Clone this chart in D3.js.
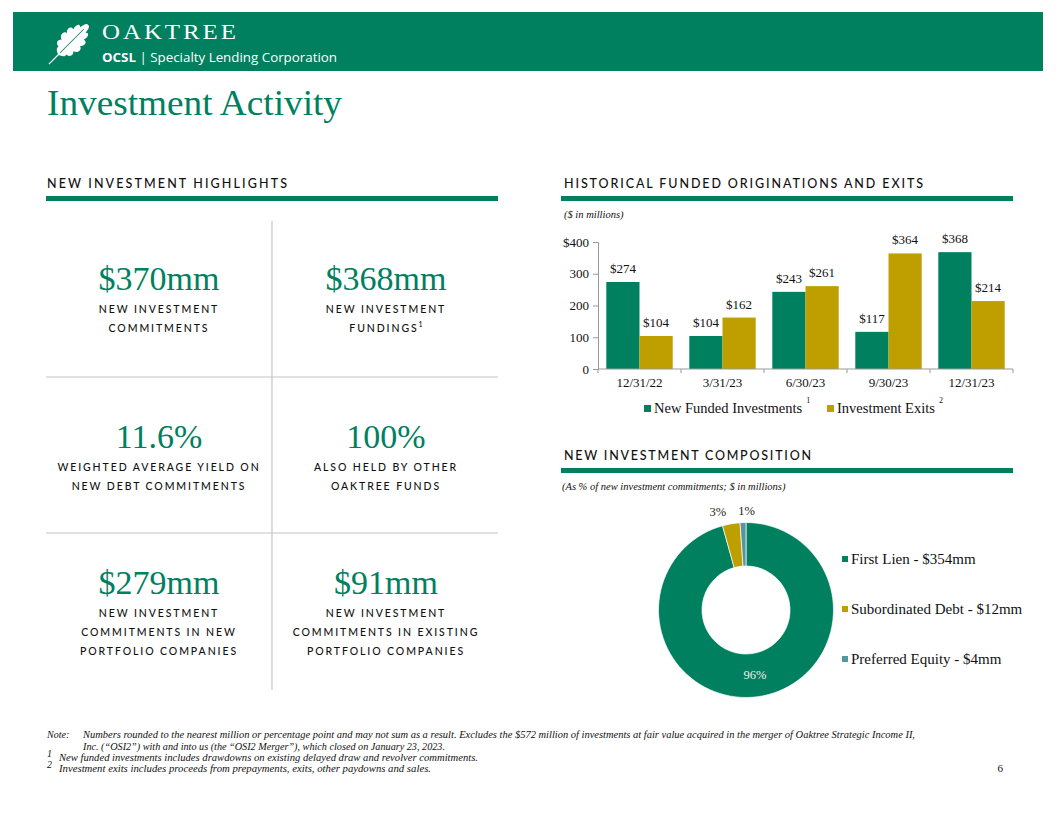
<!DOCTYPE html>
<html><head><meta charset="utf-8">
<script src="https://cdn.jsdelivr.net/npm/d3@7"></script>
<style>body{margin:0;background:#fff}svg{display:block}</style>
</head><body><svg id="c" width="1056" height="816"></svg>
<script>
// ---------- DATA ----------
const quarters = ["12/31/22", "3/31/23", "6/30/23", "9/30/23", "12/31/23"];
const newFunded = [274, 104, 243, 117, 368];
const exits = [104, 162, 261, 364, 214];
const barSeries = ["New Funded Investments", "Investment Exits"];
const barSeriesNotes = ["1", "2"];
const yTicks = [0, 100, 200, 300, 400];

const compCategories = ["First Lien", "Subordinated Debt", "Preferred Equity"];
const compValues = [354, 12, 4];
const compPercents = ["96%", "3%", "1%"];

const highlightValues = ["$370mm", "$368mm", "11.6%", "100%", "$279mm", "$91mm"];
const highlightLabels = [
  ["NEW INVESTMENT", "COMMITMENTS"],
  ["NEW INVESTMENT", "FUNDINGS"],
  ["WEIGHTED AVERAGE YIELD ON", "NEW DEBT COMMITMENTS"],
  ["ALSO HELD BY OTHER", "OAKTREE FUNDS"],
  ["NEW INVESTMENT", "COMMITMENTS IN NEW", "PORTFOLIO COMPANIES"],
  ["NEW INVESTMENT", "COMMITMENTS IN EXISTING", "PORTFOLIO COMPANIES"]
];
const highlightNotes = ["", "1", "", "", "", ""];

const noteLines = [
  "Numbers rounded to the nearest million or percentage point and may not sum as a result. Excludes the $572 million of investments at fair value acquired in the merger of Oaktree Strategic Income II,",
  "Inc. (\u201COSI2\u201D) with and into us (the \u201COSI2 Merger\u201D), which closed on January 23, 2023."
];
const footnotes = [
  "New funded investments includes drawdowns on existing delayed draw and revolver commitments.",
  "Investment exits includes proceeds from prepayments, exits, other paydowns and sales."
];

// ---------- STYLE ----------
const GREEN = "#00805f", GOLD = "#bf9f00", TEAL = "#5595a0";
const SERIF = "'Liberation Serif','Times New Roman',serif";
const SANS = "Lato,'Open Sans',sans-serif";
const svg = d3.select("#c");
svg.append("rect").attr("width", 1056).attr("height", 816).attr("fill", "#fff");

// ---------- HEADER ----------
svg.append("rect").attr("x", 13).attr("y", 12).attr("width", 1030).attr("height", 59).attr("fill", GREEN);
const leaf = svg.append("g").attr("transform", "translate(54,59) rotate(-45) scale(1.2,0.92)");
leaf.append("line").attr("x1", -6).attr("y1", 0).attr("x2", 8).attr("y2", 0).attr("stroke", "#fff").attr("stroke-width", 1.4);
leaf.append("path").attr("fill", "#fff").attr("d",
  "M5,0 C6,-3 7,-7 10,-6 C10,-10 13,-13 16,-9 C17,-14 22,-15 23,-10 C25,-14 30,-13 29,-8 C33,-10 37,-7 34,-4 C38,-4 41,-2 40,0 C41,2 38,4 34,4 C37,7 33,10 29,8 C30,13 25,14 23,10 C22,15 17,14 16,9 C13,13 10,10 10,6 C7,7 6,3 5,0 Z");
leaf.append("line").attr("x1", 7).attr("y1", 0).attr("x2", 35).attr("y2", 0).attr("stroke", GREEN).attr("stroke-width", 0.9);

svg.append("text").attr("x", 102).attr("y", 39).attr("fill", "#fff").attr("font-family", SERIF)
  .attr("font-size", 21).attr("letter-spacing", 2.5).attr("textLength", 137).attr("lengthAdjust", "spacingAndGlyphs").text("OAKTREE");
const sub = svg.append("text").attr("x", 102).attr("y", 62).attr("fill", "#fff").attr("font-family", "'Open Sans',sans-serif")
  .attr("font-size", 13).attr("textLength", 235).attr("lengthAdjust", "spacingAndGlyphs");
sub.append("tspan").attr("font-weight", 700).text("OCSL");
sub.append("tspan").text(" | Specialty Lending Corporation");

svg.append("text").attr("x", 47).attr("y", 115).attr("fill", GREEN).attr("font-family", SERIF)
  .attr("font-size", 36).attr("textLength", 295).attr("lengthAdjust", "spacingAndGlyphs").text("Investment Activity");

// ---------- SECTION HEADINGS ----------
function heading(x, y, w, txt, rx1, rx2) {
  svg.append("text").attr("x", x).attr("y", y).attr("fill", "#111").attr("font-family", SANS)
    .attr("font-size", 12.5).attr("font-weight", 500).attr("textLength", w).attr("lengthAdjust", "spacing").text(txt);
  svg.append("rect").attr("x", rx1).attr("y", y + 8).attr("width", rx2 - rx1).attr("height", 5).attr("fill", GREEN);
}
heading(47, 188, 240, "NEW INVESTMENT HIGHLIGHTS", 46, 498);
heading(564, 188, 359, "HISTORICAL FUNDED ORIGINATIONS AND EXITS", 561, 1013);
heading(564, 460, 247, "NEW INVESTMENT COMPOSITION", 561, 1013);

// ---------- HIGHLIGHTS ----------
svg.append("line").attr("x1", 272).attr("x2", 272).attr("y1", 221).attr("y2", 690).attr("stroke", "#c4c4c4").attr("stroke-width", 1.2);
[377, 533].forEach(y => svg.append("line").attr("x1", 46).attr("x2", 498).attr("y1", y).attr("y2", y).attr("stroke", "#c4c4c4").attr("stroke-width", 1.2));
const colX = [159, 386], rowY = [290, 448, 594];
highlightValues.forEach((v, i) => {
  const cx = colX[i % 2], by = rowY[Math.floor(i / 2)];
  svg.append("text").attr("x", cx).attr("y", by).attr("text-anchor", "middle").attr("fill", GREEN)
    .attr("font-family", SERIF).attr("font-size", 34).text(v);
  highlightLabels[i].forEach((l, j) => {
    const t = svg.append("text").attr("x", cx).attr("y", by + 23 + j * 19).attr("text-anchor", "middle")
      .attr("fill", "#111").attr("font-family", SANS).attr("font-size", 10.5).attr("font-weight", 500)
      .attr("letter-spacing", 1.9).text(l);
    if (j === highlightLabels[i].length - 1 && highlightNotes[i]) {
      t.append("tspan").attr("font-size", 7).attr("dy", -5).attr("letter-spacing", 0).text(highlightNotes[i]);
    }
  });
});

// ---------- BAR CHART ----------
svg.append("text").attr("x", 564).attr("y", 218).attr("font-family", SERIF).attr("font-style", "italic")
  .attr("font-size", 10.5).attr("fill", "#111").text("($ in millions)");
const x0 = d3.scaleBand().domain(quarters).range([598, 1013]).paddingInner(0.2).paddingOuter(0.1);
const x1 = d3.scaleBand().domain(barSeries).range([0, x0.bandwidth()]);
const y = d3.scaleLinear().domain([0, 400]).range([369, 242]);
const barColor = d3.scaleOrdinal().domain(barSeries).range([GREEN, GOLD]);
const barData = quarters.map((q, i) => ({ q, vals: [{ s: barSeries[0], v: newFunded[i] }, { s: barSeries[1], v: exits[i] }] }));

const yAxis = svg.append("g").attr("transform", "translate(598,0)")
  .call(d3.axisLeft(y).tickValues(yTicks).tickSize(5).tickFormat(d => d === 400 ? "$400" : d));
yAxis.select(".domain").attr("stroke", "#999");
yAxis.selectAll(".tick line").attr("stroke", "#999");
yAxis.selectAll("text").attr("font-family", SERIF).attr("font-size", 13).attr("fill", "#111").attr("x", -9);

const groups = svg.append("g").selectAll("g").data(barData).join("g").attr("transform", d => `translate(${x0(d.q)},0)`);
groups.selectAll("rect").data(d => d.vals).join("rect")
  .attr("x", d => x1(d.s)).attr("width", x1.bandwidth())
  .attr("y", d => y(d.v)).attr("height", d => y(0) - y(d.v)).attr("fill", d => barColor(d.s));
groups.selectAll("text").data(d => d.vals).join("text")
  .attr("x", d => x1(d.s) + x1.bandwidth() / 2).attr("y", d => y(d.v) - 9).attr("text-anchor", "middle")
  .attr("font-family", SERIF).attr("font-size", 13).attr("fill", "#111").text(d => "$" + d.v);

const xAxisG = svg.append("g").attr("transform", `translate(0,${y(0)})`);
xAxisG.append("line").attr("x1", 598).attr("x2", 1013).attr("stroke", "#999");
const step = x0.step();
d3.range(quarters.length + 1).forEach(i => {
  const xx = 598 + i * step;
  xAxisG.append("line").attr("x1", xx).attr("x2", xx).attr("y1", 0).attr("y2", 4).attr("stroke", "#999");
});
xAxisG.selectAll("text.q").data(quarters).join("text").attr("class", "q")
  .attr("x", d => x0(d) + x0.bandwidth() / 2).attr("y", 18).attr("text-anchor", "middle")
  .attr("font-family", SERIF).attr("font-size", 13).attr("fill", "#111").text(d => d);

// legend
const legX = [644, 827];
barSeries.forEach((s, i) => {
  svg.append("rect").attr("x", legX[i]).attr("y", 405).attr("width", 7).attr("height", 7).attr("fill", barColor(s));
  const t = svg.append("text").attr("x", legX[i] + 10).attr("y", 413).attr("font-family", SERIF)
    .attr("font-size", 14.5).attr("fill", "#111").text(s);
  t.append("tspan").attr("font-size", 8).attr("dy", -10).attr("dx", 4).text(barSeriesNotes[i]);
});

// ---------- DONUT ----------
svg.append("text").attr("x", 562).attr("y", 490).attr("font-family", SERIF).attr("font-style", "italic")
  .attr("font-size", 10.5).attr("fill", "#111").text("(As % of new investment commitments; $ in millions)");
const pieColor = d3.scaleOrdinal().domain(compCategories).range([GREEN, GOLD, TEAL]);
const pie = d3.pie().sort(null).value(d => d.v);
const pieData = pie(compCategories.map((c, i) => ({ c, v: compValues[i], p: compPercents[i] })));
const arc = d3.arc().innerRadius(44).outerRadius(87.5);
const outerLabelArc = d3.arc().innerRadius(101).outerRadius(101);
const donut = svg.append("g").attr("transform", "translate(746,610)");
donut.selectAll("path").data(pieData).join("path").attr("d", arc)
  .attr("fill", d => pieColor(d.data.c)).attr("stroke", "#fff").attr("stroke-width", 0.7);
const labelDx = [0, -11, 4];
donut.selectAll("text").data(pieData).join("text")
  .attr("transform", (d, i) => {
    const c = i === 0 ? arc.centroid(d) : outerLabelArc.centroid(d);
    return `translate(${c[0] + labelDx[i]},${c[1] + (i === 0 ? 4 : 6)})`;
  })
  .attr("text-anchor", "middle").attr("font-family", SERIF).attr("font-size", 12.5)
  .attr("fill", (d, i) => i === 0 ? "#e8f2ee" : "#222").text(d => d.data.p);

compCategories.forEach((c, i) => {
  const yy = 564 + i * 50;
  svg.append("rect").attr("x", 842).attr("y", yy - 8).attr("width", 6).attr("height", 6).attr("fill", pieColor(c));
  svg.append("text").attr("x", 851).attr("y", yy).attr("font-family", SERIF).attr("font-size", 15)
    .attr("fill", "#111").text(`${c} - $${compValues[i]}mm`);
});

// ---------- NOTES ----------
const noteFont = t => t.attr("font-family", SERIF).attr("font-style", "italic").attr("font-size", 10).attr("fill", "#111");
noteFont(svg.append("text").attr("x", 47).attr("y", 738).text("Note:"));
noteFont(svg.append("text").attr("x", 83).attr("y", 738).attr("textLength", 832).attr("lengthAdjust", "spacingAndGlyphs").text(noteLines[0]));
noteFont(svg.append("text").attr("x", 83).attr("y", 749.5).attr("textLength", 362).attr("lengthAdjust", "spacingAndGlyphs").text(noteLines[1]));
const fnW = [419, 372];
footnotes.forEach((f, i) => {
  const yy = 761 + i * 11;
  noteFont(svg.append("text").attr("x", 47).attr("y", yy - 4).attr("font-size", 6.5).text(String(i + 1)));
  noteFont(svg.append("text").attr("x", 59).attr("y", yy).attr("textLength", fnW[i]).attr("lengthAdjust", "spacingAndGlyphs").text(f));
});
svg.append("text").attr("x", 1003).attr("y", 772).attr("text-anchor", "end").attr("font-family", SERIF)
  .attr("font-size", 11).attr("fill", "#111").text("6");
</script></body></html>
